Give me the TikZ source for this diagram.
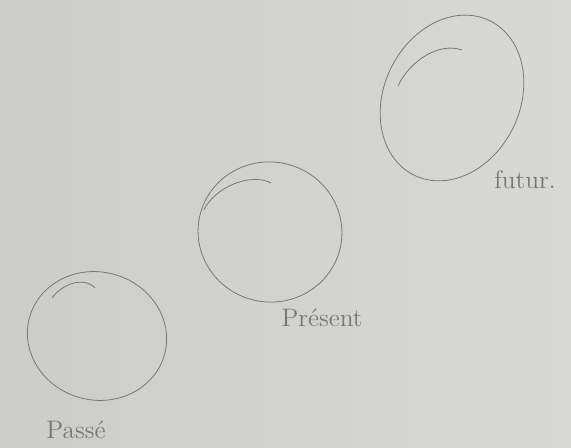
\documentclass[tikz,border=0pt]{standalone}
\usepackage{tikz}

\definecolor{paper}{RGB}{204,204,201}
\definecolor{paperlight}{RGB}{216,216,213}
\definecolor{pencil}{RGB}{118,118,116}

\begin{document}
\begin{tikzpicture}[
        x=0.02cm, y=-0.02cm,
        pencil line/.style={draw=pencil, line width=0.45pt},
        label text/.style={text=pencil, font=\Large},
        ]
        % Paper
        \shade[left color=paper, right color=paperlight] (0,0) rectangle (571,448);
        \useasboundingbox (0,0) rectangle (571,448);

        % Circles (past, present, future)
        \draw[pencil line, rotate around={-15:(97,336)}] (97,336) ellipse (70 and 64);
        \draw[pencil line, rotate around={-12:(270,232)}] (270,232) ellipse (72 and 70);
        \draw[pencil line, rotate around={-26:(452,98)}] (452,98) ellipse (68 and 86);

        % Overlapping strokes at the top of each circle
        \draw[pencil line] (52,298) .. controls (62,284) and (84,276) .. (95,288);
        \draw[pencil line] (204,210) .. controls (214,188) and (250,172) .. (271,183);
        \draw[pencil line] (398,86) .. controls (410,60) and (440,42) .. (462,50);

        % Labels
        \node[label text] (passe) at (76,430) {Passé};
        \node[label text] (present) at (322,318) {Présent};
        \node[label text] (futur) at (525,180) {futur.};

    \end{tikzpicture}
\end{document}
